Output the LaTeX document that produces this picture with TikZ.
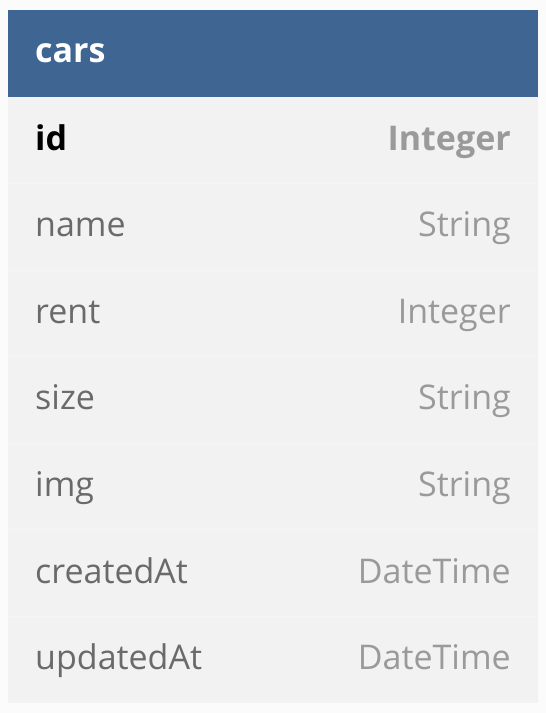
\documentclass[tikz,border=0pt]{standalone}
\usepackage{fontspec}
\setmainfont{Open Sans}
\definecolor{headblue}{HTML}{3F6592}
\definecolor{rowgray}{HTML}{F2F2F2}
\definecolor{sepgray}{HTML}{F5F5F5}
\definecolor{pagegray}{HTML}{FBFBFB}
\definecolor{namegray}{HTML}{6A6A6A}
\definecolor{typegray}{HTML}{9A9A9A}

\begin{document}
\begin{tikzpicture}[x=1pt, y=-1pt,
    every node/.style={inner sep=0pt, font=\fontsize{34}{40}\selectfont},
    colname/.style={anchor=base west, text=namegray},
    coltype/.style={anchor=base east, text=typegray},
    sepline/.style={draw=sepgray, line width=1pt}]
    % page and table body
    \fill[pagegray] (0,0) rectangle (546,713);
    \useasboundingbox (0,0) rectangle (546,713);
    \fill[rowgray] (8,97) rectangle (538,703);
    \fill[headblue] (8,10) rectangle (538,97);

    % row separators
    \draw[sepline] (8,183.6) -- (538,183.6);
    \draw[sepline] (8,270.1) -- (538,270.1);
    \draw[sepline] (8,356.7) -- (538,356.7);
    \draw[sepline] (8,443.3) -- (538,443.3);
    \draw[sepline] (8,529.9) -- (538,529.9);
    \draw[sepline] (8,616.5) -- (538,616.5);

    % header
    \node[anchor=base west, text=white, font=\fontsize{34}{40}\selectfont\bfseries] (title) at (35,62.5) {cars};

    % fields
    \node[colname, text=black, font=\fontsize{34}{40}\selectfont\bfseries] (id) at (35,150) {id};
    \node[coltype, font=\fontsize{34}{40}\selectfont\bfseries] (idtype) at (511,150) {Integer};
    \node[colname] (name) at (35,236.6) {name};
    \node[coltype] (nametype) at (511,236.6) {String};
    \node[colname] (rent) at (35,323.2) {rent};
    \node[coltype] (renttype) at (511,323.2) {Integer};
    \node[colname] (size) at (35,409.8) {size};
    \node[coltype] (sizetype) at (511,409.8) {String};
    \node[colname] (img) at (35,496.4) {img};
    \node[coltype] (imgtype) at (511,496.4) {String};
    \node[colname] (created) at (35,583) {createdAt};
    \node[coltype] (createdtype) at (511,583) {DateTime};
    \node[colname] (updated) at (35,669.6) {updatedAt};
    \node[coltype] (updatedtype) at (511,669.6) {DateTime};
\end{tikzpicture}
\end{document}
